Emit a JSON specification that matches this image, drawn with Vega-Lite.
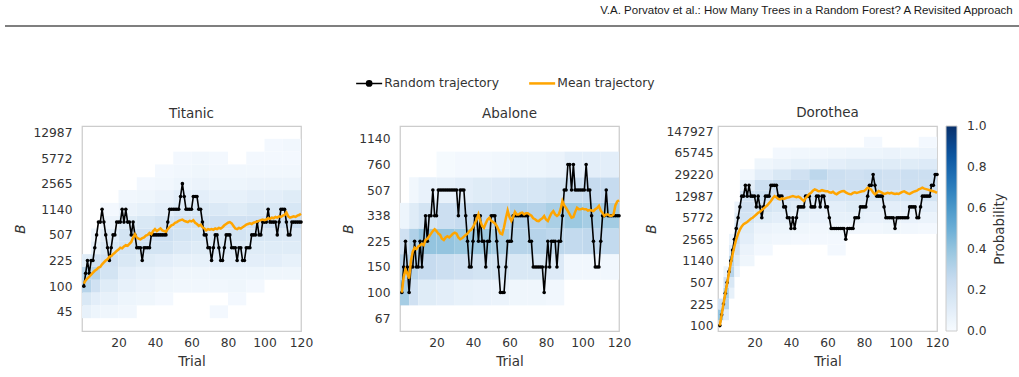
{
  "$schema": "https://vega.github.io/schema/vega-lite/v6.json",
  "padding": {"left": 4, "top": 4, "right": 0, "bottom": 0},
  "config": {
    "font": "DejaVu Sans",
    "background": "white",
    "view": {"stroke": "#cccccc", "strokeWidth": 1.25},
    "axis": {"grid": false, "ticks": false, "domain": false, "labelFlush": false, "labelFontSize": 12.3, "labelColor": "#333333", "titleFontSize": 13.5, "titleFontWeight": "normal", "titleColor": "#333333"},
    "title": {"fontSize": 13.5, "fontWeight": "normal", "color": "#333333", "offset": 6},
    "legend": {"labelFontSize": 12.3, "labelColor": "#333333", "titleFontSize": 13.5, "titleFontWeight": "normal", "titleColor": "#333333"}
  },
  "datasets": {
    "heat": [
      {"d":"T","a":0,"b":5,"k":0,"p":0.08},{"d":"T","a":0,"b":5,"k":1,"p":0.15},{"d":"T","a":0,"b":5,"k":2,"p":0.3},{"d":"T","a":0,"b":5,"k":3,"p":0.3},{"d":"T","a":0,"b":5,"k":4,"p":0.12},
      {"d":"T","a":5,"b":10,"k":-1,"p":0.03},{"d":"T","a":5,"b":10,"k":0,"p":0.05},{"d":"T","a":5,"b":10,"k":1,"p":0.1},{"d":"T","a":5,"b":10,"k":2,"p":0.2},{"d":"T","a":5,"b":10,"k":3,"p":0.3},{"d":"T","a":5,"b":10,"k":4,"p":0.2},{"d":"T","a":5,"b":10,"k":5,"p":0.08},{"d":"T","a":5,"b":10,"k":6,"p":0.04},
      {"d":"T","a":10,"b":20,"k":-1,"p":0.03},{"d":"T","a":10,"b":20,"k":0,"p":0.04},{"d":"T","a":10,"b":20,"k":1,"p":0.08},{"d":"T","a":10,"b":20,"k":2,"p":0.12},{"d":"T","a":10,"b":20,"k":3,"p":0.18},{"d":"T","a":10,"b":20,"k":4,"p":0.2},{"d":"T","a":10,"b":20,"k":5,"p":0.15},{"d":"T","a":10,"b":20,"k":6,"p":0.12},{"d":"T","a":10,"b":20,"k":7,"p":0.06},{"d":"T","a":10,"b":20,"k":8,"p":0.02},
      {"d":"T","a":20,"b":30,"k":0,"p":0.03},{"d":"T","a":20,"b":30,"k":1,"p":0.05},{"d":"T","a":20,"b":30,"k":2,"p":0.08},{"d":"T","a":20,"b":30,"k":3,"p":0.1},{"d":"T","a":20,"b":30,"k":4,"p":0.15},{"d":"T","a":20,"b":30,"k":5,"p":0.18},{"d":"T","a":20,"b":30,"k":6,"p":0.18},{"d":"T","a":20,"b":30,"k":7,"p":0.12},{"d":"T","a":20,"b":30,"k":8,"p":0.06},{"d":"T","a":20,"b":30,"k":9,"p":0.03},
      {"d":"T","a":30,"b":40,"k":-1,"p":0.02},{"d":"T","a":30,"b":40,"k":1,"p":0.04},{"d":"T","a":30,"b":40,"k":2,"p":0.06},{"d":"T","a":30,"b":40,"k":3,"p":0.08},{"d":"T","a":30,"b":40,"k":4,"p":0.12},{"d":"T","a":30,"b":40,"k":5,"p":0.18},{"d":"T","a":30,"b":40,"k":6,"p":0.2},{"d":"T","a":30,"b":40,"k":7,"p":0.15},{"d":"T","a":30,"b":40,"k":8,"p":0.08},{"d":"T","a":30,"b":40,"k":9,"p":0.04},{"d":"T","a":30,"b":40,"k":10,"p":0.02},
      {"d":"T","a":40,"b":50,"k":1,"p":0.02},{"d":"T","a":40,"b":50,"k":2,"p":0.04},{"d":"T","a":40,"b":50,"k":3,"p":0.06},{"d":"T","a":40,"b":50,"k":4,"p":0.1},{"d":"T","a":40,"b":50,"k":5,"p":0.18},{"d":"T","a":40,"b":50,"k":6,"p":0.22},{"d":"T","a":40,"b":50,"k":7,"p":0.18},{"d":"T","a":40,"b":50,"k":8,"p":0.1},{"d":"T","a":40,"b":50,"k":9,"p":0.06},{"d":"T","a":40,"b":50,"k":10,"p":0.03},{"d":"T","a":40,"b":50,"k":11,"p":0.02},
      {"d":"T","a":50,"b":60,"k":2,"p":0.03},{"d":"T","a":50,"b":60,"k":3,"p":0.04},{"d":"T","a":50,"b":60,"k":4,"p":0.08},{"d":"T","a":50,"b":60,"k":5,"p":0.14},{"d":"T","a":50,"b":60,"k":6,"p":0.18},{"d":"T","a":50,"b":60,"k":7,"p":0.2},{"d":"T","a":50,"b":60,"k":8,"p":0.14},{"d":"T","a":50,"b":60,"k":9,"p":0.1},{"d":"T","a":50,"b":60,"k":10,"p":0.05},{"d":"T","a":50,"b":60,"k":11,"p":0.03},{"d":"T","a":50,"b":60,"k":12,"p":0.02},
      {"d":"T","a":60,"b":70,"k":2,"p":0.03},{"d":"T","a":60,"b":70,"k":3,"p":0.04},{"d":"T","a":60,"b":70,"k":4,"p":0.08},{"d":"T","a":60,"b":70,"k":5,"p":0.12},{"d":"T","a":60,"b":70,"k":6,"p":0.16},{"d":"T","a":60,"b":70,"k":7,"p":0.2},{"d":"T","a":60,"b":70,"k":8,"p":0.15},{"d":"T","a":60,"b":70,"k":9,"p":0.1},{"d":"T","a":60,"b":70,"k":10,"p":0.06},{"d":"T","a":60,"b":70,"k":11,"p":0.04},{"d":"T","a":60,"b":70,"k":12,"p":0.03},
      {"d":"T","a":70,"b":80,"k":0,"p":0.02},{"d":"T","a":70,"b":80,"k":2,"p":0.03},{"d":"T","a":70,"b":80,"k":3,"p":0.05},{"d":"T","a":70,"b":80,"k":4,"p":0.1},{"d":"T","a":70,"b":80,"k":5,"p":0.14},{"d":"T","a":70,"b":80,"k":6,"p":0.16},{"d":"T","a":70,"b":80,"k":7,"p":0.2},{"d":"T","a":70,"b":80,"k":8,"p":0.14},{"d":"T","a":70,"b":80,"k":9,"p":0.08},{"d":"T","a":70,"b":80,"k":10,"p":0.05},{"d":"T","a":70,"b":80,"k":11,"p":0.03},{"d":"T","a":70,"b":80,"k":12,"p":0.02},
      {"d":"T","a":80,"b":90,"k":-1,"p":0.02},{"d":"T","a":80,"b":90,"k":1,"p":0.02},{"d":"T","a":80,"b":90,"k":2,"p":0.04},{"d":"T","a":80,"b":90,"k":3,"p":0.05},{"d":"T","a":80,"b":90,"k":4,"p":0.1},{"d":"T","a":80,"b":90,"k":5,"p":0.13},{"d":"T","a":80,"b":90,"k":6,"p":0.18},{"d":"T","a":80,"b":90,"k":7,"p":0.2},{"d":"T","a":80,"b":90,"k":8,"p":0.12},{"d":"T","a":80,"b":90,"k":9,"p":0.08},{"d":"T","a":80,"b":90,"k":10,"p":0.05},{"d":"T","a":80,"b":90,"k":11,"p":0.03},
      {"d":"T","a":90,"b":100,"k":2,"p":0.02},{"d":"T","a":90,"b":100,"k":3,"p":0.05},{"d":"T","a":90,"b":100,"k":4,"p":0.1},{"d":"T","a":90,"b":100,"k":5,"p":0.12},{"d":"T","a":90,"b":100,"k":6,"p":0.16},{"d":"T","a":90,"b":100,"k":7,"p":0.2},{"d":"T","a":90,"b":100,"k":8,"p":0.15},{"d":"T","a":90,"b":100,"k":9,"p":0.1},{"d":"T","a":90,"b":100,"k":10,"p":0.06},{"d":"T","a":90,"b":100,"k":11,"p":0.03},{"d":"T","a":90,"b":100,"k":12,"p":0.02},
      {"d":"T","a":100,"b":110,"k":3,"p":0.04},{"d":"T","a":100,"b":110,"k":4,"p":0.1},{"d":"T","a":100,"b":110,"k":5,"p":0.12},{"d":"T","a":100,"b":110,"k":6,"p":0.15},{"d":"T","a":100,"b":110,"k":7,"p":0.22},{"d":"T","a":100,"b":110,"k":8,"p":0.15},{"d":"T","a":100,"b":110,"k":9,"p":0.1},{"d":"T","a":100,"b":110,"k":10,"p":0.06},{"d":"T","a":100,"b":110,"k":11,"p":0.03},{"d":"T","a":100,"b":110,"k":12,"p":0.02},{"d":"T","a":100,"b":110,"k":13,"p":0.02},
      {"d":"T","a":110,"b":120,"k":3,"p":0.04},{"d":"T","a":110,"b":120,"k":4,"p":0.08},{"d":"T","a":110,"b":120,"k":5,"p":0.12},{"d":"T","a":110,"b":120,"k":6,"p":0.14},{"d":"T","a":110,"b":120,"k":7,"p":0.22},{"d":"T","a":110,"b":120,"k":8,"p":0.16},{"d":"T","a":110,"b":120,"k":9,"p":0.12},{"d":"T","a":110,"b":120,"k":10,"p":0.06},{"d":"T","a":110,"b":120,"k":11,"p":0.03},{"d":"T","a":110,"b":120,"k":12,"p":0.02},{"d":"T","a":110,"b":120,"k":13,"p":0.03},

      {"d":"A","a":0,"b":5,"k":0,"p":0.1},{"d":"A","a":0,"b":5,"k":1,"p":0.35},{"d":"A","a":0,"b":5,"k":2,"p":0.3},{"d":"A","a":0,"b":5,"k":3,"p":0.2},{"d":"A","a":0,"b":5,"k":4,"p":0.05},
      {"d":"A","a":5,"b":10,"k":0,"p":0.05},{"d":"A","a":5,"b":10,"k":1,"p":0.2},{"d":"A","a":5,"b":10,"k":2,"p":0.3},{"d":"A","a":5,"b":10,"k":3,"p":0.32},{"d":"A","a":5,"b":10,"k":4,"p":0.12},{"d":"A","a":5,"b":10,"k":5,"p":0.03},
      {"d":"A","a":10,"b":20,"k":0,"p":0.03},{"d":"A","a":10,"b":20,"k":1,"p":0.12},{"d":"A","a":10,"b":20,"k":2,"p":0.25},{"d":"A","a":10,"b":20,"k":3,"p":0.4},{"d":"A","a":10,"b":20,"k":4,"p":0.18},{"d":"A","a":10,"b":20,"k":5,"p":0.07},
      {"d":"A","a":20,"b":30,"k":0,"p":0.02},{"d":"A","a":20,"b":30,"k":1,"p":0.1},{"d":"A","a":20,"b":30,"k":2,"p":0.22},{"d":"A","a":20,"b":30,"k":3,"p":0.4},{"d":"A","a":20,"b":30,"k":4,"p":0.22},{"d":"A","a":20,"b":30,"k":5,"p":0.08},{"d":"A","a":20,"b":30,"k":6,"p":0.01},
      {"d":"A","a":30,"b":40,"k":1,"p":0.08},{"d":"A","a":30,"b":40,"k":2,"p":0.2},{"d":"A","a":30,"b":40,"k":3,"p":0.38},{"d":"A","a":30,"b":40,"k":4,"p":0.25},{"d":"A","a":30,"b":40,"k":5,"p":0.1},{"d":"A","a":30,"b":40,"k":6,"p":0.02},
      {"d":"A","a":40,"b":50,"k":1,"p":0.07},{"d":"A","a":40,"b":50,"k":2,"p":0.18},{"d":"A","a":40,"b":50,"k":3,"p":0.38},{"d":"A","a":40,"b":50,"k":4,"p":0.26},{"d":"A","a":40,"b":50,"k":5,"p":0.12},{"d":"A","a":40,"b":50,"k":6,"p":0.02},
      {"d":"A","a":50,"b":60,"k":1,"p":0.06},{"d":"A","a":50,"b":60,"k":2,"p":0.18},{"d":"A","a":50,"b":60,"k":3,"p":0.34},{"d":"A","a":50,"b":60,"k":4,"p":0.28},{"d":"A","a":50,"b":60,"k":5,"p":0.13},{"d":"A","a":50,"b":60,"k":6,"p":0.03},
      {"d":"A","a":60,"b":70,"k":1,"p":0.04},{"d":"A","a":60,"b":70,"k":2,"p":0.15},{"d":"A","a":60,"b":70,"k":3,"p":0.3},{"d":"A","a":60,"b":70,"k":4,"p":0.32},{"d":"A","a":60,"b":70,"k":5,"p":0.16},{"d":"A","a":60,"b":70,"k":6,"p":0.05},
      {"d":"A","a":70,"b":80,"k":1,"p":0.04},{"d":"A","a":70,"b":80,"k":2,"p":0.15},{"d":"A","a":70,"b":80,"k":3,"p":0.3},{"d":"A","a":70,"b":80,"k":4,"p":0.3},{"d":"A","a":70,"b":80,"k":5,"p":0.16},{"d":"A","a":70,"b":80,"k":6,"p":0.05},
      {"d":"A","a":80,"b":90,"k":1,"p":0.03},{"d":"A","a":80,"b":90,"k":2,"p":0.13},{"d":"A","a":80,"b":90,"k":3,"p":0.28},{"d":"A","a":80,"b":90,"k":4,"p":0.34},{"d":"A","a":80,"b":90,"k":5,"p":0.18},{"d":"A","a":80,"b":90,"k":6,"p":0.06},
      {"d":"A","a":90,"b":100,"k":2,"p":0.03},{"d":"A","a":90,"b":100,"k":3,"p":0.26},{"d":"A","a":90,"b":100,"k":4,"p":0.38},{"d":"A","a":90,"b":100,"k":5,"p":0.23},{"d":"A","a":90,"b":100,"k":6,"p":0.1},
      {"d":"A","a":100,"b":110,"k":2,"p":0.03},{"d":"A","a":100,"b":110,"k":3,"p":0.27},{"d":"A","a":100,"b":110,"k":4,"p":0.35},{"d":"A","a":100,"b":110,"k":5,"p":0.25},{"d":"A","a":100,"b":110,"k":6,"p":0.1},
      {"d":"A","a":110,"b":120,"k":2,"p":0.03},{"d":"A","a":110,"b":120,"k":3,"p":0.26},{"d":"A","a":110,"b":120,"k":4,"p":0.36},{"d":"A","a":110,"b":120,"k":5,"p":0.25},{"d":"A","a":110,"b":120,"k":6,"p":0.1},

      {"d":"D","a":0,"b":3,"k":0,"p":0.4},{"d":"D","a":0,"b":3,"k":1,"p":0.4},{"d":"D","a":0,"b":3,"k":2,"p":0.2},
      {"d":"D","a":3,"b":6,"k":1,"p":0.1},{"d":"D","a":3,"b":6,"k":2,"p":0.3},{"d":"D","a":3,"b":6,"k":3,"p":0.35},{"d":"D","a":3,"b":6,"k":4,"p":0.2},{"d":"D","a":3,"b":6,"k":5,"p":0.05},
      {"d":"D","a":6,"b":9,"k":3,"p":0.08},{"d":"D","a":6,"b":9,"k":4,"p":0.15},{"d":"D","a":6,"b":9,"k":5,"p":0.3},{"d":"D","a":6,"b":9,"k":6,"p":0.3},{"d":"D","a":6,"b":9,"k":7,"p":0.12},{"d":"D","a":6,"b":9,"k":8,"p":0.05},
      {"d":"D","a":9,"b":12,"k":5,"p":0.05},{"d":"D","a":9,"b":12,"k":6,"p":0.12},{"d":"D","a":9,"b":12,"k":7,"p":0.2},{"d":"D","a":9,"b":12,"k":8,"p":0.25},{"d":"D","a":9,"b":12,"k":9,"p":0.2},{"d":"D","a":9,"b":12,"k":10,"p":0.12},{"d":"D","a":9,"b":12,"k":11,"p":0.06},
      {"d":"D","a":12,"b":20,"k":6,"p":0.04},{"d":"D","a":12,"b":20,"k":7,"p":0.06},{"d":"D","a":12,"b":20,"k":8,"p":0.1},{"d":"D","a":12,"b":20,"k":9,"p":0.12},{"d":"D","a":12,"b":20,"k":10,"p":0.18},{"d":"D","a":12,"b":20,"k":11,"p":0.2},{"d":"D","a":12,"b":20,"k":12,"p":0.2},{"d":"D","a":12,"b":20,"k":13,"p":0.1},{"d":"D","a":12,"b":20,"k":14,"p":0.03},
      {"d":"D","a":20,"b":30,"k":7,"p":0.02},{"d":"D","a":20,"b":30,"k":8,"p":0.04},{"d":"D","a":20,"b":30,"k":9,"p":0.06},{"d":"D","a":20,"b":30,"k":10,"p":0.12},{"d":"D","a":20,"b":30,"k":11,"p":0.18},{"d":"D","a":20,"b":30,"k":12,"p":0.22},{"d":"D","a":20,"b":30,"k":13,"p":0.22},{"d":"D","a":20,"b":30,"k":14,"p":0.1},{"d":"D","a":20,"b":30,"k":15,"p":0.04},
      {"d":"D","a":30,"b":40,"k":8,"p":0.03},{"d":"D","a":30,"b":40,"k":9,"p":0.05},{"d":"D","a":30,"b":40,"k":10,"p":0.1},{"d":"D","a":30,"b":40,"k":11,"p":0.15},{"d":"D","a":30,"b":40,"k":12,"p":0.2},{"d":"D","a":30,"b":40,"k":13,"p":0.25},{"d":"D","a":30,"b":40,"k":14,"p":0.15},{"d":"D","a":30,"b":40,"k":15,"p":0.06},{"d":"D","a":30,"b":40,"k":16,"p":0.02},
      {"d":"D","a":40,"b":50,"k":8,"p":0.02},{"d":"D","a":40,"b":50,"k":9,"p":0.04},{"d":"D","a":40,"b":50,"k":10,"p":0.08},{"d":"D","a":40,"b":50,"k":11,"p":0.12},{"d":"D","a":40,"b":50,"k":12,"p":0.2},{"d":"D","a":40,"b":50,"k":13,"p":0.25},{"d":"D","a":40,"b":50,"k":14,"p":0.2},{"d":"D","a":40,"b":50,"k":15,"p":0.08},{"d":"D","a":40,"b":50,"k":16,"p":0.03},
      {"d":"D","a":50,"b":60,"k":8,"p":0.02},{"d":"D","a":50,"b":60,"k":9,"p":0.03},{"d":"D","a":50,"b":60,"k":10,"p":0.07},{"d":"D","a":50,"b":60,"k":11,"p":0.1},{"d":"D","a":50,"b":60,"k":12,"p":0.18},{"d":"D","a":50,"b":60,"k":13,"p":0.22},{"d":"D","a":50,"b":60,"k":14,"p":0.28},{"d":"D","a":50,"b":60,"k":15,"p":0.08},{"d":"D","a":50,"b":60,"k":16,"p":0.03},
      {"d":"D","a":60,"b":70,"k":7,"p":0.02},{"d":"D","a":60,"b":70,"k":8,"p":0.02},{"d":"D","a":60,"b":70,"k":9,"p":0.04},{"d":"D","a":60,"b":70,"k":10,"p":0.08},{"d":"D","a":60,"b":70,"k":11,"p":0.1},{"d":"D","a":60,"b":70,"k":12,"p":0.17},{"d":"D","a":60,"b":70,"k":13,"p":0.22},{"d":"D","a":60,"b":70,"k":14,"p":0.22},{"d":"D","a":60,"b":70,"k":15,"p":0.1},{"d":"D","a":60,"b":70,"k":16,"p":0.04},
      {"d":"D","a":70,"b":80,"k":9,"p":0.03},{"d":"D","a":70,"b":80,"k":10,"p":0.08},{"d":"D","a":70,"b":80,"k":11,"p":0.12},{"d":"D","a":70,"b":80,"k":12,"p":0.17},{"d":"D","a":70,"b":80,"k":13,"p":0.22},{"d":"D","a":70,"b":80,"k":14,"p":0.2},{"d":"D","a":70,"b":80,"k":15,"p":0.12},{"d":"D","a":70,"b":80,"k":16,"p":0.05},
      {"d":"D","a":80,"b":90,"k":9,"p":0.03},{"d":"D","a":80,"b":90,"k":10,"p":0.07},{"d":"D","a":80,"b":90,"k":11,"p":0.1},{"d":"D","a":80,"b":90,"k":12,"p":0.17},{"d":"D","a":80,"b":90,"k":13,"p":0.22},{"d":"D","a":80,"b":90,"k":14,"p":0.22},{"d":"D","a":80,"b":90,"k":15,"p":0.12},{"d":"D","a":80,"b":90,"k":16,"p":0.05},{"d":"D","a":80,"b":90,"k":17,"p":0.02},
      {"d":"D","a":90,"b":100,"k":9,"p":0.04},{"d":"D","a":90,"b":100,"k":10,"p":0.08},{"d":"D","a":90,"b":100,"k":11,"p":0.1},{"d":"D","a":90,"b":100,"k":12,"p":0.18},{"d":"D","a":90,"b":100,"k":13,"p":0.2},{"d":"D","a":90,"b":100,"k":14,"p":0.2},{"d":"D","a":90,"b":100,"k":15,"p":0.12},{"d":"D","a":90,"b":100,"k":16,"p":0.06},
      {"d":"D","a":100,"b":110,"k":9,"p":0.03},{"d":"D","a":100,"b":110,"k":10,"p":0.07},{"d":"D","a":100,"b":110,"k":11,"p":0.1},{"d":"D","a":100,"b":110,"k":12,"p":0.18},{"d":"D","a":100,"b":110,"k":13,"p":0.22},{"d":"D","a":100,"b":110,"k":14,"p":0.22},{"d":"D","a":100,"b":110,"k":15,"p":0.12},{"d":"D","a":100,"b":110,"k":16,"p":0.05},
      {"d":"D","a":110,"b":120,"k":9,"p":0.02},{"d":"D","a":110,"b":120,"k":10,"p":0.06},{"d":"D","a":110,"b":120,"k":11,"p":0.1},{"d":"D","a":110,"b":120,"k":12,"p":0.18},{"d":"D","a":110,"b":120,"k":13,"p":0.22},{"d":"D","a":110,"b":120,"k":14,"p":0.22},{"d":"D","a":110,"b":120,"k":15,"p":0.13},{"d":"D","a":110,"b":120,"k":16,"p":0.06},{"d":"D","a":110,"b":120,"k":17,"p":0.02}
    ],
    "traj": [
      {"d":"T","t":1,"r":2,"m":2.2},{"d":"T","t":2,"r":3,"m":2.45},{"d":"T","t":3,"r":4,"m":2.6},{"d":"T","t":4,"r":3,"m":2.75},{"d":"T","t":5,"r":4,"m":2.9},{"d":"T","t":6,"r":4,"m":3.05},{"d":"T","t":7,"r":5,"m":3.2},{"d":"T","t":8,"r":6,"m":3.3},{"d":"T","t":9,"r":7,"m":3.45},{"d":"T","t":10,"r":7,"m":3.5},
      {"d":"T","t":11,"r":8,"m":3.7},{"d":"T","t":12,"r":7,"m":3.85},{"d":"T","t":13,"r":6,"m":4.0},{"d":"T","t":14,"r":5,"m":4.1},{"d":"T","t":15,"r":4,"m":4.3},{"d":"T","t":16,"r":5,"m":4.35},{"d":"T","t":17,"r":6,"m":4.5},{"d":"T","t":18,"r":6,"m":4.6},{"d":"T","t":19,"r":7,"m":4.75},{"d":"T","t":20,"r":7,"m":4.85},
      {"d":"T","t":21,"r":7,"m":5.0},{"d":"T","t":22,"r":8,"m":4.95},{"d":"T","t":23,"r":7,"m":5.1},{"d":"T","t":24,"r":8,"m":5.2},{"d":"T","t":25,"r":7,"m":5.15},{"d":"T","t":26,"r":7,"m":5.3},{"d":"T","t":27,"r":6,"m":5.45},{"d":"T","t":28,"r":7,"m":5.8},{"d":"T","t":29,"r":6,"m":6.05},{"d":"T","t":30,"r":5,"m":5.8},
      {"d":"T","t":31,"r":5,"m":5.7},{"d":"T","t":32,"r":5,"m":5.65},{"d":"T","t":33,"r":4,"m":5.75},{"d":"T","t":34,"r":5,"m":5.8},{"d":"T","t":35,"r":5,"m":5.95},{"d":"T","t":36,"r":5,"m":6.0},{"d":"T","t":37,"r":5,"m":6.15},{"d":"T","t":38,"r":6,"m":6.05},{"d":"T","t":39,"r":6,"m":6.3},{"d":"T","t":40,"r":6,"m":6.45},
      {"d":"T","t":41,"r":6,"m":6.3},{"d":"T","t":42,"r":6,"m":6.4},{"d":"T","t":43,"r":6,"m":6.5},{"d":"T","t":44,"r":6,"m":6.35},{"d":"T","t":45,"r":6,"m":6.3},{"d":"T","t":46,"r":6,"m":6.25},{"d":"T","t":47,"r":7,"m":6.45},{"d":"T","t":48,"r":8,"m":6.6},{"d":"T","t":49,"r":8,"m":6.75},{"d":"T","t":50,"r":8,"m":6.8},
      {"d":"T","t":51,"r":8,"m":6.95},{"d":"T","t":52,"r":8,"m":7.0},{"d":"T","t":53,"r":8,"m":7.1},{"d":"T","t":54,"r":9,"m":7.15},{"d":"T","t":55,"r":10,"m":7.2},{"d":"T","t":56,"r":9,"m":7.1},{"d":"T","t":57,"r":8,"m":7.05},{"d":"T","t":58,"r":8,"m":7.0},{"d":"T","t":59,"r":8,"m":7.1},{"d":"T","t":60,"r":8,"m":7.05},
      {"d":"T","t":61,"r":9,"m":7.15},{"d":"T","t":62,"r":9,"m":6.95},{"d":"T","t":63,"r":9,"m":6.85},{"d":"T","t":64,"r":8,"m":6.7},{"d":"T","t":65,"r":8,"m":6.8},{"d":"T","t":66,"r":7,"m":6.6},{"d":"T","t":67,"r":6,"m":6.5},{"d":"T","t":68,"r":6,"m":6.35},{"d":"T","t":69,"r":5,"m":6.45},{"d":"T","t":70,"r":5,"m":6.4},
      {"d":"T","t":71,"r":4,"m":6.45},{"d":"T","t":72,"r":5,"m":6.4},{"d":"T","t":73,"r":6,"m":6.5},{"d":"T","t":74,"r":6,"m":6.45},{"d":"T","t":75,"r":5,"m":6.55},{"d":"T","t":76,"r":4,"m":6.5},{"d":"T","t":77,"r":4,"m":6.6},{"d":"T","t":78,"r":5,"m":6.75},{"d":"T","t":79,"r":6,"m":6.85},{"d":"T","t":80,"r":6,"m":6.95},
      {"d":"T","t":81,"r":6,"m":7.0},{"d":"T","t":82,"r":5,"m":6.9},{"d":"T","t":83,"r":5,"m":6.7},{"d":"T","t":84,"r":5,"m":6.5},{"d":"T","t":85,"r":4,"m":6.45},{"d":"T","t":86,"r":5,"m":6.55},{"d":"T","t":87,"r":5,"m":6.5},{"d":"T","t":88,"r":4,"m":6.6},{"d":"T","t":89,"r":4,"m":6.7},{"d":"T","t":90,"r":5,"m":6.8},
      {"d":"T","t":91,"r":5,"m":6.85},{"d":"T","t":92,"r":5,"m":6.9},{"d":"T","t":93,"r":6,"m":6.85},{"d":"T","t":94,"r":6,"m":6.95},{"d":"T","t":95,"r":6,"m":7.0},{"d":"T","t":96,"r":7,"m":7.05},{"d":"T","t":97,"r":6,"m":7.1},{"d":"T","t":98,"r":6,"m":7.15},{"d":"T","t":99,"r":7,"m":7.2},{"d":"T","t":100,"r":7,"m":7.15},
      {"d":"T","t":101,"r":7,"m":7.2},{"d":"T","t":102,"r":8,"m":7.3},{"d":"T","t":103,"r":7,"m":7.25},{"d":"T","t":104,"r":7,"m":7.35},{"d":"T","t":105,"r":7,"m":7.3},{"d":"T","t":106,"r":7,"m":7.4},{"d":"T","t":107,"r":6,"m":7.35},{"d":"T","t":108,"r":7,"m":7.45},{"d":"T","t":109,"r":8,"m":7.4},{"d":"T","t":110,"r":8,"m":7.5},
      {"d":"T","t":111,"r":8,"m":7.55},{"d":"T","t":112,"r":7,"m":7.75},{"d":"T","t":113,"r":6,"m":7.45},{"d":"T","t":114,"r":6,"m":7.35},{"d":"T","t":115,"r":7,"m":7.4},{"d":"T","t":116,"r":7,"m":7.45},{"d":"T","t":117,"r":7,"m":7.4},{"d":"T","t":118,"r":7,"m":7.5},{"d":"T","t":119,"r":7,"m":7.55},{"d":"T","t":120,"r":7,"m":7.65},

      {"d":"A","t":1,"r":1,"m":1.0},{"d":"A","t":2,"r":2,"m":1.6},{"d":"A","t":3,"r":3,"m":1.9},{"d":"A","t":4,"r":2,"m":1.75},{"d":"A","t":5,"r":1,"m":1.55},{"d":"A","t":6,"r":2,"m":2.25},{"d":"A","t":7,"r":2,"m":2.6},{"d":"A","t":8,"r":3,"m":2.75},{"d":"A","t":9,"r":2,"m":2.7},{"d":"A","t":10,"r":2,"m":2.8},
      {"d":"A","t":11,"r":3,"m":2.85},{"d":"A","t":12,"r":2,"m":2.9},{"d":"A","t":13,"r":3,"m":2.85},{"d":"A","t":14,"r":4,"m":3.05},{"d":"A","t":15,"r":3,"m":3.1},{"d":"A","t":16,"r":4,"m":3.2},{"d":"A","t":17,"r":4,"m":3.3},{"d":"A","t":18,"r":5,"m":3.4},{"d":"A","t":19,"r":4,"m":3.47},{"d":"A","t":20,"r":4,"m":3.4},
      {"d":"A","t":21,"r":5,"m":3.3},{"d":"A","t":22,"r":5,"m":3.25},{"d":"A","t":23,"r":5,"m":3.1},{"d":"A","t":24,"r":5,"m":3.05},{"d":"A","t":25,"r":5,"m":3.15},{"d":"A","t":26,"r":5,"m":3.2},{"d":"A","t":27,"r":5,"m":3.15},{"d":"A","t":28,"r":5,"m":3.22},{"d":"A","t":29,"r":5,"m":3.3},{"d":"A","t":30,"r":5,"m":3.34},
      {"d":"A","t":31,"r":5,"m":3.3},{"d":"A","t":32,"r":4,"m":3.15},{"d":"A","t":33,"r":5,"m":3.08},{"d":"A","t":34,"r":5,"m":3.12},{"d":"A","t":35,"r":5,"m":3.18},{"d":"A","t":36,"r":4,"m":3.25},{"d":"A","t":37,"r":3,"m":3.3},{"d":"A","t":38,"r":2,"m":3.4},{"d":"A","t":39,"r":2,"m":3.45},{"d":"A","t":40,"r":3,"m":3.55},
      {"d":"A","t":41,"r":4,"m":3.7},{"d":"A","t":42,"r":4,"m":3.85},{"d":"A","t":43,"r":3,"m":4.05},{"d":"A","t":44,"r":4,"m":3.8},{"d":"A","t":45,"r":3,"m":3.6},{"d":"A","t":46,"r":3,"m":3.53},{"d":"A","t":47,"r":2,"m":3.7},{"d":"A","t":48,"r":3,"m":3.85},{"d":"A","t":49,"r":3,"m":3.92},{"d":"A","t":50,"r":4,"m":3.8},
      {"d":"A","t":51,"r":4,"m":3.75},{"d":"A","t":52,"r":4,"m":3.7},{"d":"A","t":53,"r":3,"m":3.6},{"d":"A","t":54,"r":2,"m":3.45},{"d":"A","t":55,"r":1,"m":3.3},{"d":"A","t":56,"r":1,"m":3.27},{"d":"A","t":57,"r":1,"m":3.55},{"d":"A","t":58,"r":2,"m":3.9},{"d":"A","t":59,"r":3,"m":4.2},{"d":"A","t":60,"r":3,"m":3.95},
      {"d":"A","t":61,"r":3,"m":3.8},{"d":"A","t":62,"r":4,"m":3.95},{"d":"A","t":63,"r":4,"m":4.15},{"d":"A","t":64,"r":4,"m":4.05},{"d":"A","t":65,"r":4,"m":4.05},{"d":"A","t":66,"r":4,"m":4.1},{"d":"A","t":67,"r":4,"m":4.12},{"d":"A","t":68,"r":4,"m":4.05},{"d":"A","t":69,"r":4,"m":4.1},{"d":"A","t":70,"r":4,"m":4.1},
      {"d":"A","t":71,"r":3,"m":4.05},{"d":"A","t":72,"r":3,"m":4.0},{"d":"A","t":73,"r":2,"m":3.9},{"d":"A","t":74,"r":2,"m":3.86},{"d":"A","t":75,"r":2,"m":3.8},{"d":"A","t":76,"r":2,"m":3.79},{"d":"A","t":77,"r":2,"m":3.85},{"d":"A","t":78,"r":2,"m":3.9},{"d":"A","t":79,"r":1,"m":3.99},{"d":"A","t":80,"r":2,"m":3.85},
      {"d":"A","t":81,"r":3,"m":3.79},{"d":"A","t":82,"r":2,"m":3.95},{"d":"A","t":83,"r":3,"m":4.1},{"d":"A","t":84,"r":3,"m":4.18},{"d":"A","t":85,"r":3,"m":4.05},{"d":"A","t":86,"r":2,"m":3.99},{"d":"A","t":87,"r":3,"m":4.05},{"d":"A","t":88,"r":3,"m":4.25},{"d":"A","t":89,"r":4,"m":4.57},{"d":"A","t":90,"r":5,"m":4.4},
      {"d":"A","t":91,"r":5,"m":4.3},{"d":"A","t":92,"r":6,"m":4.18},{"d":"A","t":93,"r":6,"m":4.05},{"d":"A","t":94,"r":5,"m":3.92},{"d":"A","t":95,"r":6,"m":3.95},{"d":"A","t":96,"r":5,"m":4.15},{"d":"A","t":97,"r":5,"m":4.31},{"d":"A","t":98,"r":5,"m":4.25},{"d":"A","t":99,"r":5,"m":4.25},{"d":"A","t":100,"r":5,"m":4.28},
      {"d":"A","t":101,"r":5,"m":4.25},{"d":"A","t":102,"r":6,"m":4.25},{"d":"A","t":103,"r":5,"m":4.2},{"d":"A","t":104,"r":5,"m":4.22},{"d":"A","t":105,"r":4,"m":4.2},{"d":"A","t":106,"r":3,"m":4.18},{"d":"A","t":107,"r":2,"m":4.25},{"d":"A","t":108,"r":2,"m":4.3},{"d":"A","t":109,"r":2,"m":4.38},{"d":"A","t":110,"r":3,"m":4.2},
      {"d":"A","t":111,"r":4,"m":4.1},{"d":"A","t":112,"r":4,"m":3.99},{"d":"A","t":113,"r":5,"m":4.05},{"d":"A","t":114,"r":4,"m":4.05},{"d":"A","t":115,"r":4,"m":4.0},{"d":"A","t":116,"r":4,"m":4.0},{"d":"A","t":117,"r":4,"m":4.05},{"d":"A","t":118,"r":4,"m":4.4},{"d":"A","t":119,"r":4,"m":4.55},{"d":"A","t":120,"r":4,"m":4.6},

      {"d":"D","t":1,"r":0,"m":0.0},{"d":"D","t":2,"r":1,"m":1.0},{"d":"D","t":3,"r":2,"m":2.0},{"d":"D","t":4,"r":3,"m":2.95},{"d":"D","t":5,"r":4,"m":3.9},{"d":"D","t":6,"r":5,"m":4.85},{"d":"D","t":7,"r":6,"m":5.75},{"d":"D","t":8,"r":7,"m":6.6},{"d":"D","t":9,"r":8,"m":7.35},{"d":"D","t":10,"r":9,"m":8.0},
      {"d":"D","t":11,"r":10,"m":8.5},{"d":"D","t":12,"r":11,"m":8.9},{"d":"D","t":13,"r":12,"m":9.2},{"d":"D","t":14,"r":12,"m":9.4},{"d":"D","t":15,"r":13,"m":9.5},{"d":"D","t":16,"r":12,"m":9.6},{"d":"D","t":17,"r":13,"m":9.75},{"d":"D","t":18,"r":12,"m":9.9},{"d":"D","t":19,"r":12,"m":10.0},{"d":"D","t":20,"r":12,"m":10.15},
      {"d":"D","t":21,"r":11,"m":10.3},{"d":"D","t":22,"r":12,"m":10.45},{"d":"D","t":23,"r":11,"m":10.55},{"d":"D","t":24,"r":10,"m":10.7},{"d":"D","t":25,"r":11,"m":10.85},{"d":"D","t":26,"r":12,"m":11.0},{"d":"D","t":27,"r":12,"m":11.15},{"d":"D","t":28,"r":12,"m":11.35},{"d":"D","t":29,"r":13,"m":11.55},{"d":"D","t":30,"r":13,"m":11.8},
      {"d":"D","t":31,"r":13,"m":12.0},{"d":"D","t":32,"r":13,"m":11.9},{"d":"D","t":33,"r":12,"m":11.75},{"d":"D","t":34,"r":12,"m":11.7},{"d":"D","t":35,"r":12,"m":11.8},{"d":"D","t":36,"r":11,"m":11.75},{"d":"D","t":37,"r":11,"m":11.8},{"d":"D","t":38,"r":10,"m":11.86},{"d":"D","t":39,"r":10,"m":11.9},{"d":"D","t":40,"r":9,"m":11.95},
      {"d":"D","t":41,"r":10,"m":12.0},{"d":"D","t":42,"r":9,"m":11.95},{"d":"D","t":43,"r":10,"m":11.9},{"d":"D","t":44,"r":11,"m":11.95},{"d":"D","t":45,"r":11,"m":11.86},{"d":"D","t":46,"r":11,"m":11.7},{"d":"D","t":47,"r":11,"m":11.55},{"d":"D","t":48,"r":12,"m":11.8},{"d":"D","t":49,"r":12,"m":12.0},{"d":"D","t":50,"r":12,"m":12.2},
      {"d":"D","t":51,"r":11,"m":12.3},{"d":"D","t":52,"r":11,"m":12.5},{"d":"D","t":53,"r":11,"m":12.63},{"d":"D","t":54,"r":12,"m":12.55},{"d":"D","t":55,"r":12,"m":12.45},{"d":"D","t":56,"r":11,"m":12.48},{"d":"D","t":57,"r":12,"m":12.55},{"d":"D","t":58,"r":12,"m":12.5},{"d":"D","t":59,"r":11,"m":12.45},{"d":"D","t":60,"r":11,"m":12.45},
      {"d":"D","t":61,"r":10,"m":12.35},{"d":"D","t":62,"r":9,"m":12.32},{"d":"D","t":63,"r":9,"m":12.4},{"d":"D","t":64,"r":9,"m":12.25},{"d":"D","t":65,"r":9,"m":12.17},{"d":"D","t":66,"r":9,"m":12.3},{"d":"D","t":67,"r":9,"m":12.4},{"d":"D","t":68,"r":9,"m":12.45},{"d":"D","t":69,"r":9,"m":12.48},{"d":"D","t":70,"r":8,"m":12.35},
      {"d":"D","t":71,"r":9,"m":12.25},{"d":"D","t":72,"r":9,"m":12.2},{"d":"D","t":73,"r":9,"m":12.17},{"d":"D","t":74,"r":9,"m":12.3},{"d":"D","t":75,"r":10,"m":12.35},{"d":"D","t":76,"r":10,"m":12.3},{"d":"D","t":77,"r":10,"m":12.35},{"d":"D","t":78,"r":11,"m":12.4},{"d":"D","t":79,"r":11,"m":12.45},{"d":"D","t":80,"r":11,"m":12.48},
      {"d":"D","t":81,"r":11,"m":12.6},{"d":"D","t":82,"r":12,"m":12.78},{"d":"D","t":83,"r":13,"m":12.7},{"d":"D","t":84,"r":13,"m":12.6},{"d":"D","t":85,"r":14,"m":12.35},{"d":"D","t":86,"r":13,"m":12.17},{"d":"D","t":87,"r":12,"m":12.3},{"d":"D","t":88,"r":12,"m":12.48},{"d":"D","t":89,"r":12,"m":12.4},{"d":"D","t":90,"r":12,"m":12.3},
      {"d":"D","t":91,"r":11,"m":12.2},{"d":"D","t":92,"r":10,"m":12.25},{"d":"D","t":93,"r":10,"m":12.3},{"d":"D","t":94,"r":10,"m":12.25},{"d":"D","t":95,"r":10,"m":12.3},{"d":"D","t":96,"r":10,"m":12.25},{"d":"D","t":97,"r":9,"m":12.2},{"d":"D","t":98,"r":10,"m":12.25},{"d":"D","t":99,"r":10,"m":12.2},{"d":"D","t":100,"r":10,"m":12.3},
      {"d":"D","t":101,"r":10,"m":12.4},{"d":"D","t":102,"r":10,"m":12.45},{"d":"D","t":103,"r":10,"m":12.35},{"d":"D","t":104,"r":10,"m":12.25},{"d":"D","t":105,"r":11,"m":12.2},{"d":"D","t":106,"r":11,"m":12.3},{"d":"D","t":107,"r":11,"m":12.4},{"d":"D","t":108,"r":11,"m":12.45},{"d":"D","t":109,"r":10,"m":12.5},{"d":"D","t":110,"r":10,"m":12.63},
      {"d":"D","t":111,"r":11,"m":12.7},{"d":"D","t":112,"r":12,"m":12.78},{"d":"D","t":113,"r":12,"m":12.7},{"d":"D","t":114,"r":12,"m":12.65},{"d":"D","t":115,"r":12,"m":12.6},{"d":"D","t":116,"r":12,"m":12.55},{"d":"D","t":117,"r":13,"m":12.5},{"d":"D","t":118,"r":13,"m":12.45},{"d":"D","t":119,"r":14,"m":12.4},{"d":"D","t":120,"r":14,"m":12.3}
    ]
  },
  "columns": 1,
  "align": "none",
  "spacing": 78,
  "concat": [
    {
      "width": 937,
      "height": 1,
      "view": {"stroke": null},
      "title": {"text": "V.A. Porvatov et al.: How Many Trees in a Random Forest? A Revisited Approach", "anchor": "end", "dx": -7, "font": "Liberation Sans", "fontSize": 11.5, "fontWeight": "normal", "color": "#1a1a1a", "offset": 9},
      "data": {"values": [{"from": 0, "to": 1, "y": 0}]},
      "mark": {"type": "rule", "color": "#555555", "strokeWidth": 1.5},
      "encoding": {
        "x": {"field": "from", "type": "quantitative", "scale": {"domain": [0, 1], "range": [-77, 937]}, "axis": null},
        "x2": {"field": "to"},
        "y": {"field": "y", "type": "quantitative", "scale": {"domain": [0, 1]}, "axis": null}
      }
    },
    {
      "spacing": 99,
      "bounds": "flush",
      "resolve": {
        "scale": {"x": "independent", "y": "independent", "color": "independent", "stroke": "shared"},
        "legend": {"color": "independent", "stroke": "shared"}
      },
      "hconcat": [
        {
          "width": 219,
          "height": 205,
          "title": "Titanic",
          "layer": [
            {
              "data": {"name": "heat"},
              "transform": [{"filter": "datum.d === 'T'"}, {"bin": {"step": 1, "anchor": 0.5}, "field": "k", "as": ["k0", "k1"]}],
              "mark": {"type": "rect", "strokeWidth": 0},
              "encoding": {
                "x": {"field": "a", "type": "quantitative", "scale": {"domain": [0, 120], "nice": false, "zero": false}, "axis": {"values": [20, 40, 60, 80, 100, 120], "title": "Trial", "labelPadding": 5, "titlePadding": 6}},
                "x2": {"field": "b"},
                "y": {"field": "k0", "type": "quantitative", "scale": {"domain": [-1.5, 14.5], "nice": false, "zero": false}, "axis": {"values": [0, 2, 4, 6, 8, 10, 12, 14], "labelExpr": "['45','100','225','507','1140','2565','5772','12987'][datum.value / 2]", "title": "B", "titleFontStyle": "italic", "labelPadding": 10, "titlePadding": 5}},
                "y2": {"field": "k1"},
                "color": {"field": "p", "type": "quantitative", "scale": {"domain": [0, 0.125, 0.25, 0.375, 0.5, 0.625, 0.75, 0.875, 1], "range": ["#f7fbff", "#deebf7", "#c6dbef", "#9ecae1", "#6baed6", "#4292c6", "#2171b5", "#08519c", "#08306b"]}, "legend": null}
              }
            },
            {
              "data": {"name": "traj"},
              "transform": [{"filter": "datum.d === 'T'"}],
              "mark": {"type": "line", "strokeWidth": 1.6},
              "encoding": {
                "x": {"field": "t", "type": "quantitative", "axis": {"values": [20, 40, 60, 80, 100, 120], "title": "Trial", "labelPadding": 5, "titlePadding": 6}},
                "y": {"field": "r", "type": "quantitative", "axis": {"values": [0, 2, 4, 6, 8, 10, 12, 14], "labelExpr": "['45','100','225','507','1140','2565','5772','12987'][datum.value / 2]", "title": "B", "titleFontStyle": "italic", "labelPadding": 10, "titlePadding": 5}},
                "stroke": {
                  "datum": "Random trajectory", "type": "nominal",
                  "scale": {"domain": ["Random trajectory", "Mean trajectory"], "range": ["#000000", "#ffa500"]},
                  "legend": {
                    "orient": "none", "legendX": 281, "legendY": 52, "direction": "horizontal", "title": null,
                    "symbolSize": 676, "labelOffset": 9, "columnPadding": 25, "labelFontSize": 12.3,
                    "encode": {"symbols": {"update": {
                      "shape": {"signal": "datum.value === 'Random trajectory' ? 'M-1,0L1,0M-0.2,0A0.2,0.2,0,1,1,0.2,0A0.2,0.2,0,1,1,-0.2,0' : 'M-1,0L1,0'"},
                      "fill": {"signal": "datum.value === 'Random trajectory' ? '#000000' : 'transparent'"},
                      "strokeWidth": {"signal": "datum.value === 'Random trajectory' ? 1.6 : 2.5"}
                    }}}
                  }
                }
              }
            },
            {
              "data": {"name": "traj"},
              "transform": [{"filter": "datum.d === 'T'"}],
              "mark": {"type": "circle", "size": 13, "color": "#000000", "opacity": 1},
              "encoding": {
                "x": {"field": "t", "type": "quantitative", "axis": {"values": [20, 40, 60, 80, 100, 120], "title": "Trial", "labelPadding": 5, "titlePadding": 6}},
                "y": {"field": "r", "type": "quantitative", "axis": {"values": [0, 2, 4, 6, 8, 10, 12, 14], "labelExpr": "['45','100','225','507','1140','2565','5772','12987'][datum.value / 2]", "title": "B", "titleFontStyle": "italic", "labelPadding": 10, "titlePadding": 5}}
              }
            },
            {
              "data": {"name": "traj"},
              "transform": [{"filter": "datum.d === 'T'"}],
              "mark": {"type": "line", "strokeWidth": 2.5},
              "encoding": {
                "x": {"field": "t", "type": "quantitative", "axis": {"values": [20, 40, 60, 80, 100, 120], "title": "Trial", "labelPadding": 5, "titlePadding": 6}},
                "y": {"field": "m", "type": "quantitative", "axis": {"values": [0, 2, 4, 6, 8, 10, 12, 14], "labelExpr": "['45','100','225','507','1140','2565','5772','12987'][datum.value / 2]", "title": "B", "titleFontStyle": "italic", "labelPadding": 10, "titlePadding": 5}},
                "stroke": {"datum": "Mean trajectory", "type": "nominal"}
              }
            }
          ]
        },
        {
          "width": 219,
          "height": 205,
          "title": "Abalone",
          "layer": [
            {
              "data": {"name": "heat"},
              "transform": [{"filter": "datum.d === 'A'"}, {"bin": {"step": 1, "anchor": 0.5}, "field": "k", "as": ["k0", "k1"]}],
              "mark": {"type": "rect", "strokeWidth": 0},
              "encoding": {
                "x": {"field": "a", "type": "quantitative", "scale": {"domain": [0, 120], "nice": false, "zero": false}, "axis": {"values": [20, 40, 60, 80, 100, 120], "title": "Trial", "labelPadding": 5, "titlePadding": 6}},
                "x2": {"field": "b"},
                "y": {"field": "k0", "type": "quantitative", "scale": {"domain": [-0.5, 7.5], "nice": false, "zero": false}, "axis": {"values": [0, 1, 2, 3, 4, 5, 6, 7], "labelExpr": "['67','100','150','225','338','507','760','1140'][datum.value]", "title": "B", "titleFontStyle": "italic", "labelPadding": 10, "titlePadding": 3}},
                "y2": {"field": "k1"},
                "color": {"field": "p", "type": "quantitative", "scale": {"domain": [0, 0.125, 0.25, 0.375, 0.5, 0.625, 0.75, 0.875, 1], "range": ["#f7fbff", "#deebf7", "#c6dbef", "#9ecae1", "#6baed6", "#4292c6", "#2171b5", "#08519c", "#08306b"]}, "legend": null}
              }
            },
            {
              "data": {"name": "traj"},
              "transform": [{"filter": "datum.d === 'A'"}],
              "mark": {"type": "line", "strokeWidth": 1.6},
              "encoding": {
                "x": {"field": "t", "type": "quantitative", "axis": {"values": [20, 40, 60, 80, 100, 120], "title": "Trial", "labelPadding": 5, "titlePadding": 6}},
                "y": {"field": "r", "type": "quantitative", "axis": {"values": [0, 1, 2, 3, 4, 5, 6, 7], "labelExpr": "['67','100','150','225','338','507','760','1140'][datum.value]", "title": "B", "titleFontStyle": "italic", "labelPadding": 10, "titlePadding": 3}},
                "stroke": {"datum": "Random trajectory", "type": "nominal"}
              }
            },
            {
              "data": {"name": "traj"},
              "transform": [{"filter": "datum.d === 'A'"}],
              "mark": {"type": "circle", "size": 13, "color": "#000000", "opacity": 1},
              "encoding": {
                "x": {"field": "t", "type": "quantitative", "axis": {"values": [20, 40, 60, 80, 100, 120], "title": "Trial", "labelPadding": 5, "titlePadding": 6}},
                "y": {"field": "r", "type": "quantitative", "axis": {"values": [0, 1, 2, 3, 4, 5, 6, 7], "labelExpr": "['67','100','150','225','338','507','760','1140'][datum.value]", "title": "B", "titleFontStyle": "italic", "labelPadding": 10, "titlePadding": 3}}
              }
            },
            {
              "data": {"name": "traj"},
              "transform": [{"filter": "datum.d === 'A'"}],
              "mark": {"type": "line", "strokeWidth": 2.5},
              "encoding": {
                "x": {"field": "t", "type": "quantitative", "axis": {"values": [20, 40, 60, 80, 100, 120], "title": "Trial", "labelPadding": 5, "titlePadding": 6}},
                "y": {"field": "m", "type": "quantitative", "axis": {"values": [0, 1, 2, 3, 4, 5, 6, 7], "labelExpr": "['67','100','150','225','338','507','760','1140'][datum.value]", "title": "B", "titleFontStyle": "italic", "labelPadding": 10, "titlePadding": 3}},
                "stroke": {"datum": "Mean trajectory", "type": "nominal"}
              }
            }
          ]
        },
        {
          "width": 219,
          "height": 205,
          "title": "Dorothea",
          "layer": [
            {
              "data": {"name": "heat"},
              "transform": [{"filter": "datum.d === 'D'"}, {"bin": {"step": 1, "anchor": 0.5}, "field": "k", "as": ["k0", "k1"]}],
              "mark": {"type": "rect", "strokeWidth": 0},
              "encoding": {
                "x": {"field": "a", "type": "quantitative", "scale": {"domain": [0, 120], "nice": false, "zero": false}, "axis": {"values": [20, 40, 60, 80, 100, 120], "title": "Trial", "labelPadding": 5, "titlePadding": 6}},
                "x2": {"field": "b"},
                "y": {"field": "k0", "type": "quantitative", "scale": {"domain": [-0.5, 18.5], "nice": false, "zero": false}, "axis": {"values": [0, 2, 4, 6, 8, 10, 12, 14, 16, 18], "labelExpr": "['100','225','507','1140','2565','5772','12987','29220','65745','147927'][datum.value / 2]", "title": "B", "titleFontStyle": "italic", "labelPadding": 5, "titlePadding": 8}},
                "y2": {"field": "k1"},
                "color": {
                  "field": "p", "type": "quantitative",
                  "scale": {"domain": [0, 0.125, 0.25, 0.375, 0.5, 0.625, 0.75, 0.875, 1], "range": ["#f7fbff", "#deebf7", "#c6dbef", "#9ecae1", "#6baed6", "#4292c6", "#2171b5", "#08519c", "#08306b"]},
                  "legend": {
                    "orient": "right", "offset": 9, "title": "Probability", "titleOrient": "right",
                    "gradientLength": 205, "gradientThickness": 11, "gradientStrokeColor": "#cccccc", "gradientStrokeWidth": 1,
                    "values": [0, 0.2, 0.4, 0.6, 0.8, 1], "format": ".1f", "labelOffset": 10, "titlePadding": 6,
                    "encode": {
                      "labels": {"update": {"baseline": {"value": "middle"}}},
                      "title": {"update": {"angle": {"value": 270}, "baseline": {"value": "top"}}}
                    }
                  }
                }
              }
            },
            {
              "data": {"name": "traj"},
              "transform": [{"filter": "datum.d === 'D'"}],
              "mark": {"type": "line", "strokeWidth": 1.6},
              "encoding": {
                "x": {"field": "t", "type": "quantitative", "axis": {"values": [20, 40, 60, 80, 100, 120], "title": "Trial", "labelPadding": 5, "titlePadding": 6}},
                "y": {"field": "r", "type": "quantitative", "axis": {"values": [0, 2, 4, 6, 8, 10, 12, 14, 16, 18], "labelExpr": "['100','225','507','1140','2565','5772','12987','29220','65745','147927'][datum.value / 2]", "title": "B", "titleFontStyle": "italic", "labelPadding": 5, "titlePadding": 8}},
                "stroke": {"datum": "Random trajectory", "type": "nominal"}
              }
            },
            {
              "data": {"name": "traj"},
              "transform": [{"filter": "datum.d === 'D'"}],
              "mark": {"type": "circle", "size": 13, "color": "#000000", "opacity": 1},
              "encoding": {
                "x": {"field": "t", "type": "quantitative", "axis": {"values": [20, 40, 60, 80, 100, 120], "title": "Trial", "labelPadding": 5, "titlePadding": 6}},
                "y": {"field": "r", "type": "quantitative", "axis": {"values": [0, 2, 4, 6, 8, 10, 12, 14, 16, 18], "labelExpr": "['100','225','507','1140','2565','5772','12987','29220','65745','147927'][datum.value / 2]", "title": "B", "titleFontStyle": "italic", "labelPadding": 5, "titlePadding": 8}}
              }
            },
            {
              "data": {"name": "traj"},
              "transform": [{"filter": "datum.d === 'D'"}],
              "mark": {"type": "line", "strokeWidth": 2.5},
              "encoding": {
                "x": {"field": "t", "type": "quantitative", "axis": {"values": [20, 40, 60, 80, 100, 120], "title": "Trial", "labelPadding": 5, "titlePadding": 6}},
                "y": {"field": "m", "type": "quantitative", "axis": {"values": [0, 2, 4, 6, 8, 10, 12, 14, 16, 18], "labelExpr": "['100','225','507','1140','2565','5772','12987','29220','65745','147927'][datum.value / 2]", "title": "B", "titleFontStyle": "italic", "labelPadding": 5, "titlePadding": 8}},
                "stroke": {"datum": "Mean trajectory", "type": "nominal"}
              }
            }
          ]
        }
      ]
    }
  ]
}
